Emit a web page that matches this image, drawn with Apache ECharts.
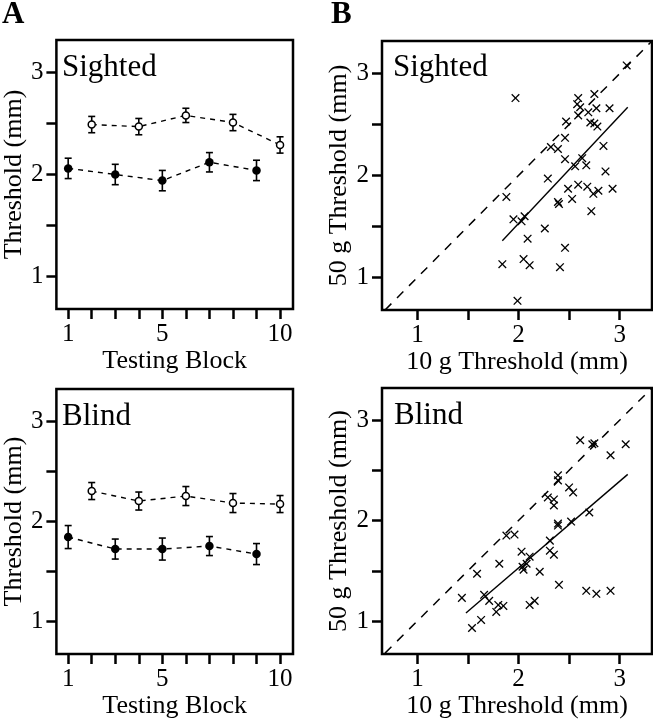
<!DOCTYPE html>
<html>
<head>
<meta charset="utf-8">
<script src="https://cdn.jsdelivr.net/npm/echarts@6/dist/echarts.min.js"></script>
<style>
html,body{margin:0;padding:0;background:#fff;}
#chart{width:653px;height:720px;}
</style>
</head>
<body>
<div id="chart"></div>
<script>
// ---- Data ----
const blocksOdd = [1, 3, 5, 7, 9];
const blocksEven = [2, 4, 6, 8, 10];

const sightedFilled = [2.06, 2.00, 1.94, 2.12, 2.04];
const sightedFilledErr = [0.10, 0.10, 0.10, 0.095, 0.10];
const sightedOpen = [2.49, 2.47, 2.58, 2.51, 2.29];
const sightedOpenErr = [0.08, 0.08, 0.07, 0.08, 0.08];

const blindFilled = [1.84, 1.72, 1.72, 1.75, 1.67];
const blindFilledErr = [0.115, 0.10, 0.11, 0.095, 0.105];
const blindOpen = [2.30, 2.20, 2.25, 2.18, 2.17];
const blindOpenErr = [0.085, 0.09, 0.095, 0.095, 0.085];

const sighted10g = [3.07,1.97,2.59,2.75,2.58,2.61,2.77,2.90,2.69,2.59,2.47,2.71,2.75,2.78,2.46,2.32,2.39,2.84,2.46,2.63,2.67,2.56,2.29,2.86,2.59,2.68,2.49,2.93,2.79,2.74,1.88,2.53,2.39,2.40,1.95,2.03,2.06,2.72,2.26,2.09,2.46,1.84,2.05,2.11,2.41,1.99];
const sighted50g = [3.08,2.76,2.76,2.80,2.70,2.67,2.66,2.66,2.62,2.59,2.53,2.52,2.51,2.48,2.37,2.28,2.26,2.29,2.16,2.17,2.10,2.09,1.97,2.04,1.91,1.89,1.87,1.87,1.85,1.82,1.79,1.77,1.74,1.72,1.57,1.55,1.60,1.65,1.48,1.38,1.29,1.13,1.18,1.12,1.10,0.77];

const blind10g = [2.61,2.73,2.75,3.06,2.91,2.39,2.39,2.50,2.54,2.29,2.35,2.35,2.70,2.39,2.39,2.52,1.88,1.96,2.31,2.03,2.31,2.35,2.11,2.08,2.04,2.05,1.81,1.59,2.21,2.40,2.67,2.77,2.91,1.44,1.66,1.71,1.80,1.85,1.78,2.11,2.16,1.63,1.54];
const blind50g = [2.80,2.76,2.77,2.76,2.65,2.45,2.40,2.33,2.28,2.23,2.21,2.15,2.08,1.97,1.95,1.99,1.85,1.86,1.80,1.69,1.70,1.66,1.64,1.57,1.54,1.51,1.57,1.47,1.49,1.36,1.30,1.27,1.30,1.23,1.26,1.20,1.16,1.15,1.09,1.16,1.20,1.01,0.93];

const sightedFitX = [1.84, 3.08];
const sightedFitY = [1.36, 2.67];
const blindFitX = [1.48, 3.08];
const blindFitY = [1.08, 2.46];

const identityX = [0.68, 3.32];
const identityY = [0.68, 3.32];

const blockTicks = [1, 2, 3, 4, 5, 6, 7, 8, 9, 10];
const blockLabels = [1, 5, 10];
const mmTicks = [1, 1.5, 2, 2.5, 3];
const mmLabels = [1, 2, 3];

// ---- Styling helpers ----
const FONT = 'Liberation Serif';
const BLACK = '#000';

function grid(left, top, width, height) {
  return { left, top, width, height, show: true, borderColor: BLACK, borderWidth: 2.5, backgroundColor: 'transparent', containLabel: false };
}
function axis(gi, min, max, ticks, labels, name, isY) {
  return {
    type: 'value', gridIndex: gi, min, max,
    name, nameLocation: 'middle', nameGap: isY ? 25 : 33,
    nameTextStyle: { fontFamily: FONT, fontSize: 26, color: BLACK },
    axisLine: { show: false },
    splitLine: { show: false },
    axisTick: { show: true, inside: false, length: 10, lineStyle: { color: BLACK, width: 2.5 }, customValues: ticks },
    axisLabel: { show: true, margin: 13, fontFamily: FONT, fontSize: 25, color: BLACK, customValues: labels }
  };
}
function errorSeries(gi, xs, ys, es) {
  return {
    type: 'custom', xAxisIndex: gi, yAxisIndex: gi, z: 1, silent: true,
    data: xs.map((x, i) => [x, ys[i] - es[i], ys[i] + es[i]]),
    encode: { x: 0, y: [1, 2] },
    renderItem(params, api) {
      const lo = api.coord([api.value(0), api.value(1)]);
      const hi = api.coord([api.value(0), api.value(2)]);
      const w = 3.5, st = { stroke: BLACK, lineWidth: 1.6 };
      return { type: 'group', children: [
        { type: 'line', shape: { x1: lo[0], y1: lo[1], x2: hi[0], y2: hi[1] }, style: st },
        { type: 'line', shape: { x1: lo[0] - w, y1: lo[1], x2: lo[0] + w, y2: lo[1] }, style: st },
        { type: 'line', shape: { x1: hi[0] - w, y1: hi[1], x2: hi[0] + w, y2: hi[1] }, style: st }
      ]};
    }
  };
}
function meanSeries(gi, xs, ys, open) {
  return {
    type: 'line', xAxisIndex: gi, yAxisIndex: gi, z: 3,
    data: xs.map((x, i) => [x, ys[i]]),
    symbol: 'circle', symbolSize: open ? 7 : 8.5,
    itemStyle: open ? { color: '#fff', borderColor: BLACK, borderWidth: 1.5 } : { color: BLACK, borderColor: BLACK, borderWidth: 0 },
    lineStyle: { color: BLACK, width: 1.4, type: [5, 5] }
  };
}
function crossSeries(gi, xs, ys) {
  return {
    type: 'custom', xAxisIndex: gi, yAxisIndex: gi, z: 2, silent: true,
    data: xs.map((x, i) => [x, ys[i]]),
    encode: { x: 0, y: 1 },
    renderItem(params, api) {
      const p = api.coord([api.value(0), api.value(1)]);
      const s = 3.8, st = { stroke: BLACK, lineWidth: 1.3 };
      return { type: 'group', children: [
        { type: 'line', shape: { x1: p[0] - s, y1: p[1] - s, x2: p[0] + s, y2: p[1] + s }, style: st },
        { type: 'line', shape: { x1: p[0] - s, y1: p[1] + s, x2: p[0] + s, y2: p[1] - s }, style: st }
      ]};
    }
  };
}
function fitSeries(gi, xs, ys, dashed) {
  return {
    type: 'line', xAxisIndex: gi, yAxisIndex: gi, z: 2, clip: true,
    data: xs.map((x, i) => [x, ys[i]]),
    symbol: 'none',
    lineStyle: { color: BLACK, width: dashed ? 1.5 : 1.4, type: dashed ? [9, 8] : 'solid' }
  };
}
function label(x, y, text, size, bold) {
  return { type: 'text', x, y, style: { text, x: 0, y: 0, fill: BLACK, verticalAlign: 'middle', align: 'left',
    fontFamily: FONT, fontSize: size, fontWeight: bold ? 'bold' : 'normal' } };
}

const option = {
  animation: false,
  backgroundColor: '#fff',
  textStyle: { fontFamily: FONT },
  grid: [
    grid(50, 40, 243, 269),
    grid(382, 41, 270, 269),
    grid(50, 389, 243, 269),
    grid(382, 388, 270, 270)
  ],
  xAxis: [
    axis(0, 0.5, 10.55, blockTicks, blockLabels, 'Testing Block', false),
    axis(1, 0.65, 3.32, mmTicks, mmLabels, '10 g Threshold (mm)', false),
    axis(2, 0.5, 10.55, blockTicks, blockLabels, 'Testing Block', false),
    axis(3, 0.65, 3.32, mmTicks, mmLabels, '10 g Threshold (mm)', false)
  ],
  yAxis: [
    axis(0, 0.68, 3.32, mmTicks, mmLabels, 'Threshold (mm)', true),
    axis(1, 0.68, 3.32, mmTicks, mmLabels, '50 g Threshold (mm)', true),
    axis(2, 0.67, 3.32, mmTicks, mmLabels, 'Threshold (mm)', true),
    axis(3, 0.67, 3.32, mmTicks, mmLabels, '50 g Threshold (mm)', true)
  ],
  series: [
    errorSeries(0, blocksOdd, sightedFilled, sightedFilledErr),
    errorSeries(0, blocksEven, sightedOpen, sightedOpenErr),
    meanSeries(0, blocksOdd, sightedFilled, false),
    meanSeries(0, blocksEven, sightedOpen, true),
    errorSeries(2, blocksOdd, blindFilled, blindFilledErr),
    errorSeries(2, blocksEven, blindOpen, blindOpenErr),
    meanSeries(2, blocksOdd, blindFilled, false),
    meanSeries(2, blocksEven, blindOpen, true),
    fitSeries(1, identityX, identityY, true),
    fitSeries(1, sightedFitX, sightedFitY, false),
    crossSeries(1, sighted10g, sighted50g),
    fitSeries(3, identityX, identityY, true),
    fitSeries(3, blindFitX, blindFitY, false),
    crossSeries(3, blind10g, blind50g)
  ],
  graphic: [
    label(2, 15, 'A', 31, true),
    label(331, 15, 'B', 31, true),
    label(62, 68, 'Sighted', 31, false),
    label(393, 68, 'Sighted', 31, false),
    label(62, 417, 'Blind', 31, false),
    label(394, 416, 'Blind', 31, false)
  ]
};

const chart = echarts.init(document.getElementById('chart'), null, { renderer: 'canvas' });
chart.setOption(option);
</script>
</body>
</html>
